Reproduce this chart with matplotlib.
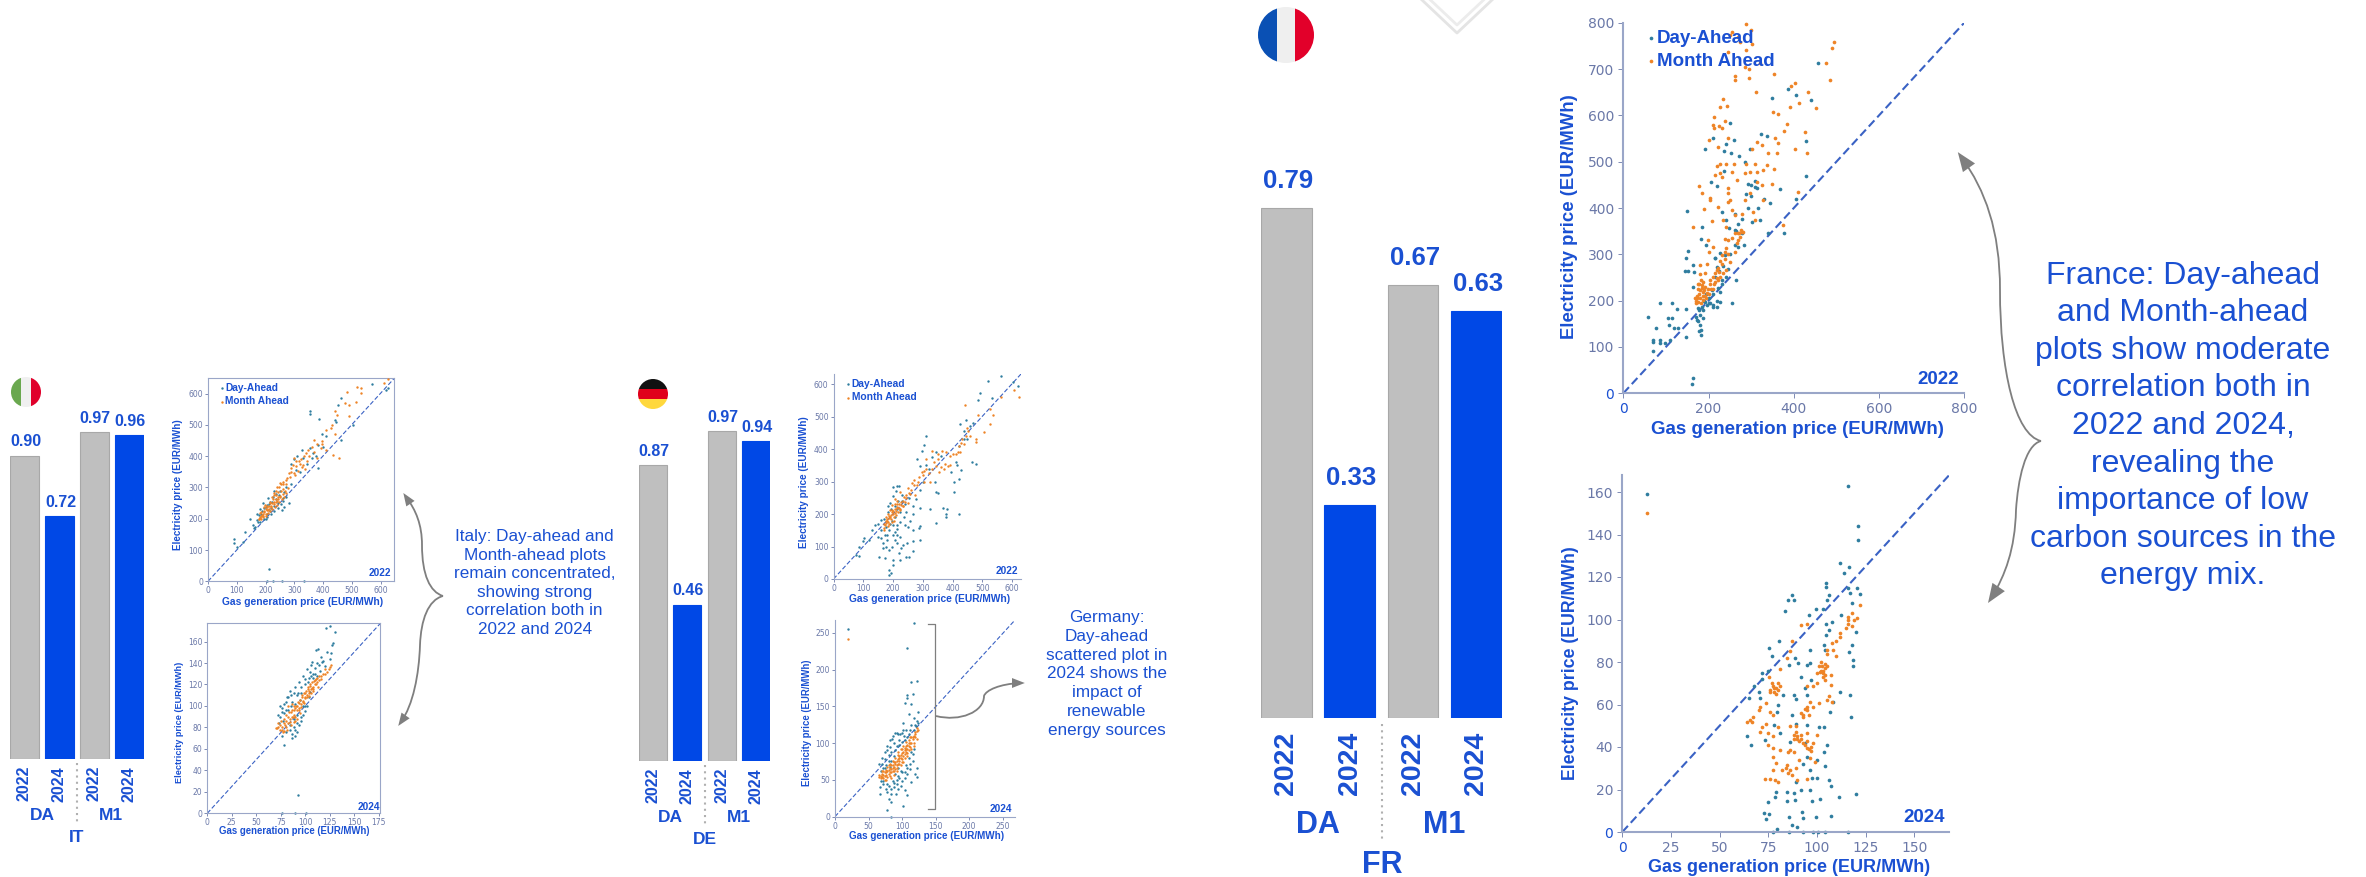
import numpy as np
import matplotlib
matplotlib.use('Agg')
import matplotlib.pyplot as plt
from matplotlib.path import Path
from matplotlib.patches import PathPatch, Polygon, Circle, Rectangle

plt.rcParams['font.family'] = ['Liberation Sans', 'DejaVu Sans']

W, H = 2366, 877
BLUE = '#1a50d2'
BAR_BLUE = '#0048e6'
BAR_GREY = '#bfbfbf'
ARROW = '#7f7f7f'
DA_COL = '#2f7d9f'
M1_COL = '#ee8427'
TICK = '#6a78a8'

bar_years = ['2022', '2024', '2022', '2024']
it_corr = [0.90, 0.72, 0.97, 0.96]
de_corr = [0.87, 0.46, 0.97, 0.94]
fr_corr = [0.79, 0.33, 0.67, 0.63]

it_text = 'Italy: Day-ahead and\nMonth-ahead plots\nremain concentrated,\nshowing strong\ncorrelation both in\n2022 and 2024'
de_text = 'Germany:\nDay-ahead\nscattered plot in\n2024 shows the\nimpact of\nrenewable\nenergy sources'
fr_text = 'France: Day-ahead\nand Month-ahead\nplots show moderate\ncorrelation both in\n2022 and 2024,\nrevealing the\nimportance of low\ncarbon sources in the\nenergy mix.'

# (gas price, electricity price)
fr22_m1 = [(289,797),(299,784),(301,755),(256,780),(250,773),(270,769),(274,759),(245,737),(289,741),(285,705),
           (295,699),(321,712),(262,684),(262,676),(295,681),(495,759),(489,746),(475,713),(486,676),(354,689),
           (311,651),(393,663),(403,669),(434,651),(412,626),(391,617),(451,615),(352,608),(364,602),(385,582),
           (378,566),(426,564),(432,519),(403,528),(362,541),(357,552),(360,518),(233,635),(228,617),(244,620),
           (213,597),(211,579),(213,572),(224,577),(231,572),(239,588),(202,546),(245,551),(223,531),(313,543),
           (325,536),(301,528),(340,518),(219,490),(228,494),(242,496),(260,496),(289,496),(309,496),(336,492),
           (354,485),(328,482),(215,471),(227,475),(231,467),(254,478),(285,475),(297,477),(313,478),(267,460),
           (178,448),(246,444),(184,433),(313,457),(348,451),(325,449),(297,433),(285,417),(203,422),(203,417),
           (246,433),(250,417),(223,403),(246,413),(189,397),(207,372),(164,358),(328,417),(305,392),(309,374),
           (278,388),(254,395),(262,385),(411,434),(374,363),(235,374),(242,360),(239,334),(246,331),(278,349),
           (274,338),(266,324),(199,331),(211,316),(242,313),(239,306),(231,298),(202,304),(181,277),(196,280),
           (192,259),(180,257),(262,306),(250,284),(231,280),(219,266),(211,252),(223,244),(235,259),(242,266),
           (176,237),(184,234),(192,230),(180,223),(188,219),(196,216),(172,209),(180,205),(188,201),(176,198),
           (170,194),(199,226),(203,237),(215,241),(219,248),(227,252),(185,228),(178,215),(192,210),(183,195),
           (174,205),(170,200),(186,240),(205,225),(212,235),(225,262),(238,290),(245,300),(270,345),(268,330),
           (175,225),(182,245),(190,222),(195,205),(200,215),(178,235),(186,210),(168,205),(204,245),(210,225),
           (214,260),(222,270),(228,285),(256,335),(262,345),(272,345),(275,352),(280,348)]
fr22_da = [(456,713),(387,656),(406,643),(440,634),(348,637),(250,584),(240,538),(259,546),(191,527),(211,552),
           (236,524),(252,518),(271,512),(324,559),(338,556),(297,528),(428,545),(428,469),(205,456),(219,448),
           (237,480),(285,500),(150,393),(293,452),(309,459),(313,444),(368,442),(405,420),(344,410),(340,345),
           (378,347),(331,419),(317,399),(293,401),(231,392),(242,375),(263,388),(278,377),(321,374),(301,370),
           (185,358),(182,334),(194,320),(152,308),(146,292),(249,356),(262,352),(278,345),(145,264),(152,264),
           (164,277),(166,262),(215,291),(227,302),(239,298),(282,320),(270,316),(86,194),(115,196),(125,182),
           (104,162),(115,162),(57,165),(77,141),(108,148),(119,141),(129,141),(147,183),(147,121),(70,115),
           (86,115),(69,111),(97,108),(70,91),(86,108),(109,115),(164,32),(160,20),(178,135),(182,136),(182,125),
           (176,157),(188,162),(172,158),(180,147),(164,230),(203,194),(211,187),(227,198),(227,219),(242,252),
           (254,194),(264,244),(219,187),(188,180),(196,191),(207,223),(231,237),(219,273),(215,291),(178,180),
           (185,186),(192,198),(200,205),(210,215),(222,228),(232,245),(245,268),
           (175,185),(190,200),(200,195),(210,190),(220,200),(180,170),(170,165),(195,215),(215,250),(225,265),
           (235,275),(250,300),(265,350),(270,365),(262,320),(300,450),(310,445),(288,430),(300,425)]
fr24_m1 = [(12.9,150),(122,107),(118,103),(116,101),(120.5,100.6),(116,98),(118,97),(115,96),(112,93.6),(110,90),
           (107.6,89),(108.5,85.7),(105,84),(105,85.7),(110,83),(102.5,78),(104,77),(101.6,75.5),(103,75),(107,74),
           (104,71.6),(107,69),(95,68.5),(98,68.5),(100,70),(106,64),(107.6,61),(101,60.6),(98,59),(95,57.5),
           (92,56),(96.5,61),(77.6,68.5),(79,68),(76,67),(81,68.5),(75.6,73),(81,76.6),(84.5,81.8),(86,85),
           (87,90),(92,97.5),(95,98),(70.8,59),(70,57.5),(67,54),(65.6,52.7),(64,51.6),(66.5,52),(71.6,49.6),
           (74,51),(70.8,47),(76,56.7),(74,60.6),(77.6,55),(80,49.6),(75,46.5),(77.6,45),(75,41),(77.6,39.4),
           (81,38.6),(85,37.8),(88,37.8),(77.6,35.5),(79,32.7),(77.6,29),(82,29),(84.5,31.6),(86,29),(89,30),
           (91,34),(73.4,25),(76,24.8),(78.5,24.5),(80,23.7),(89.6,24.5),(95,24.8),(86,50),(89,50),(88,45.7),
           (89.6,45),(92,45.7),(95,46.5),(95,43),(98,41.8),(95,39.4),(96.5,34.7),(99,33),(86,38.6),(100,45.7),
           (102,76),(104,79),(103,73),(78,66),(80,70),(90,44),(97,40),(93,55),(94,58),(105,62),
           (100,75),(101,78),(102,80),(103,76),(104,74),(105,78),(76,66),(77,70),(78,68),(79,65),(80,67),(88,44),
           (89,47),(91,43),(92,44),(93,42),(94,41),(96,39),(97,38),(95,59),(96,55),(93,54),(112,92),(116,100),
           (119,100),(84,30),(85,28),(87,27)]
fr24_da = [(12.9,159),(116,163),(121,144),(121,137.5),(112,126.5),(116.7,124.7),(114,122),(104.4,117),(104.4,115.5),
           (106,111.6),(116,115),(120.5,115),(122,112),(117,112.4),(87,111.3),(85,109),(83.6,104),(88,109),(96,102),
           (99.6,105),(103,105),(112.4,102),(105,109),(118,107.7),(104.7,98),(107.6,99),(106.4,95),(104.4,92.8),
           (120,94),(117.8,88),(116.5,84.5),(118.4,81),(118.4,78),(103.4,88),(104.3,85.7),(80.4,90),(75.4,86.5),
           (76.8,82.6),(96.5,85.7),(88.8,82),(85.4,78.7),(90.5,79.4),(95,78.7),(96.5,79.4),(72,75),(75,76),(71.6,72),
           (67.7,68.5),(70,66),(70.8,63),(65.3,63),(91.7,73),(97,71.6),(112,66),(117,64.5),(117.6,54),(106.8,56.7),
           (108.5,61),(82.8,64.5),(88,64.5),(89,62.5),(94,67.7),(95,64.5),(80,60),(79.4,56.7),(87,55),(64.3,45),
           (66.3,41),(73.4,43.3),(78,50.4),(81,46.5),(89,51),(94.8,50.4),(100.8,49.6),(103.4,49.6),(105.4,41),
           (86,42.5),(94,41.8),(95,35.5),(100,34),(103.4,37.5),(104.2,31),(93,32),(96.5,29),(89,23.7),(97.4,25.6),
           (100,25.6),(106.4,24.5),(107,21.7),(120,17.9),(111.4,16.6),(101.6,15.5),(97.7,14.6),(96.5,19.8),(91.7,20),
           (79,19),(78.5,16.6),(74.7,14.3),(84.8,19),(88,18.2),(84.8,14.6),(88.8,15),(73,8.8),(75.4,8.5),(73.7,6),
           (85.4,7.2),(92.2,9.6),(93,6.6),(99.4,7.2),(107.3,7.7),(79.7,1.4),(87,3.3),(89.6,2.5),(77.6,0),(85.9,0),
           (92.6,0),(98.2,0),(100.3,0),(104.2,0),(115.9,0)]

it22_m1 = [(626,646),(611,635),(519,620),(531,617),(533,601),(484,604),(516,572),(477,569),(491,564),(441,543),
           (448,532),(491,527),(427,489),(412,484),(434,404),(455,393),(370,452),(349,420),(334,399),(299,393),
           (327,367),(299,345),(270,324),(249,313),(240,300),(228,281),(440,470),(430,500),(395,450),(380,440),
           (360,430),(340,410),(315,385),(305,370),(285,335),(262,310),(255,290),(245,285),(235,275),(225,262),
           (215,250),(205,238),(195,225),(185,210),(178,198),(190,205),(200,215),(210,228),(220,240),(230,252),
           (240,258),(250,268),(222,250),(212,240),(202,230),(192,215),(182,202),(235,262),(245,270),(260,295),
           (275,330),(290,350),(305,385),(320,375),(410,420),(395,440),
           (176,198),(180,205),(184,200),(188,212),(192,208),(196,222),(200,210),(204,228),(208,218),(212,232),
           (216,224),(220,238),(224,230),(228,246),(232,238),(236,252),(240,244),(244,262),(248,254),(252,272),
           (256,262),(260,280),(264,270),(268,290),(272,282),(278,298),(182,218),(186,222),(194,236),(198,244),
           (206,240),(214,252),(222,268),(230,276),(238,290),(246,302),(254,310),(262,318),(270,312),(280,345),
           (290,362),(296,372),(304,340),(312,352),(322,392),(330,372),(338,358),(345,385),(352,402),(368,412),
           (378,395),(392,425)]
it22_da = [(569,631),(356,543),(356,535),(387,518),(462,585),(452,564),(441,516),(412,463),(384,436),(327,420),
           (355,425),(92,135),(92,124),(145,199),(213,39),(206,2),(225,2),(256,2),(334,2),(128,159),(121,127),
           (100,111),(619,612),(626,617),(505,500),(462,452),(384,361),(263,239),(256,228),(300,390),(290,375),
           (320,350),(360,395),(395,470),(445,510),(270,300),(250,290),(235,280),(225,270),(215,255),(205,245),
           (195,235),(185,215),(175,190),(165,175),(200,200),(215,225),(230,240),(245,250),(260,265),(180,230),
           (190,250),(210,265),(230,290),(205,215),(220,235),
           (170,196),(176,212),(182,190),(188,224),(194,200),(200,236),(206,206),(212,246),(218,216),(224,252),
           (230,226),(236,262),(242,234),(248,276),(254,246),(260,258),(266,286),(272,268),(280,250),(290,310),
           (305,355),(310,400),(330,395),(345,375),(365,410),(375,400),(400,430),(170,215),(160,170),(155,180)]
it24_m1 = [(70,79),(72,80),(74,82),(76,78),(78,84),(80,86),(82,90),(84,85),(85,94),(80,80),(78,77),(86,90),(88,96),
           (90,98),(92,100),(94,103),(96,99),(98,105),(100,107),(102,110),(104,112),(106,116),(108,118),(110,120),
           (112,122),(114,124),(116,125),(120,130),(122,132),(124,134),(126,138),(125,136),(103,116),(105,119),
           (107,117),(109,123),(111,125),(113,118),(97,108),(99,103),(95,93),(90,90),(86,102),(92,88),(82,100),
           (88,85),(94,96),(100,112),(104,109),(108,114),
           (71,79),(72,84),(74,78),(75,86),(76,80),(77,76),(78,88),(79,82),(80,92),(81,78),(82,84),(83,94),(84,88),
           (85,82),(86,96),(87,90),(88,100),(89,92),(90,86),(91,100),(92,96),(93,104),(94,98),(95,106),(96,102),
           (97,110),(98,104),(99,112),(100,108),(101,114),(102,108),(103,118),(104,114),(105,120),(106,112),
           (107,122),(108,116),(110,124),(111,120),(112,126),(114,128),(116,128),(118,130),(120,134)]
it24_da = [(125,174.5),(121,173),(130,169),(128,159),(127,157),(113,153),(111,152),(126,149),(125,144),(107,141),
           (117,141),(78,63.7),(92.5,17),(90,0.5),(101,0.5),(76,0.5),(110,135),(106,128),(103,122),(100,125),
           (96,118),(93,112),(115,133),(120,137),(105,113),(98,100),(95,106),(90,102),(85,110),(80,104),(76,98),
           (74,90),(78,93),(82,96),(88,88),(92,92),(96,86),(84,82),(90,78),(86,74),(94,82),(100,95),(110,130),
           (112,128),(105,132),(73,84),(77,86),(81,108),(85,100),(98,92),(102,100),(108,126),
           (72,92),(74,100),(76,94),(78,102),(80,96),(82,108),(84,114),(86,104),(88,112),(90,118),(92,110),(94,122),
           (96,112),(98,128),(100,120),(102,134),(104,126),(106,138),(108,130),(112,140),(114,138),(116,146),(118,142),
           (122,150),(84,78),(88,80),(92,84),(96,90),(100,100),(104,108),(76,72),(80,76),(92,76),(90,72),(86,70)]
de22_m1 = [(442,537),(607,581),(624,560),(564,560),(525,524),(535,504),(485,504),(525,478),(505,452),(478,431),
           (478,421),(451,457),(438,416),(418,390),(412,385),(385,349),(365,395),(332,395),(312,369),(345,349),
           (305,333),(285,300),(270,290),(255,265),(225,268),(205,245),(235,240),(250,235),(228,228),(215,222),
           (205,215),(195,205),(185,195),(175,180),(170,170),(190,190),(200,200),(210,210),(220,220),(235,225),
           (245,250),(260,275),(275,260),(300,320),(330,340),(350,370),(370,340),(390,380),(420,410),(430,420),
           (445,440),(375,355),(355,330),(325,300),(180,185),(198,212),(212,232),(222,212),(183,175),(168,158),
           (168,150),(172,165),(176,172),(180,178),(184,162),(188,188),(192,196),(196,176),(200,208),(204,192),
           (208,202),(212,218),(216,206),(220,230),(224,216),(228,238),(232,226),(236,252),(240,236),(244,260),
           (176,190),(182,200),(190,212),(198,228),(206,232),(214,240),(186,170),(194,186),(202,178),(210,196),
           (250,280),(258,262),(265,296),(272,305),(280,290),(288,315),(296,330),(304,300),(312,340),(320,325),
           (338,360),(352,385),(362,345),(378,390),(392,350),(400,385),(425,392),(432,432),(448,465),(460,440)]
de22_da = [(564,625),(520,609),(491,571),(485,550),(531,557),(621,595),(604,605),(445,488),(425,478),(438,457),
           (467,359),(422,307),(405,300),(422,200),(405,269),(381,214),(369,219),(378,199),(378,191),(345,268),
           (345,173),(325,214),(350,266),(312,439),(305,413),(298,395),(281,369),(292,349),(292,162),(292,121),
           (266,116),(266,85),(252,69),(242,69),(228,95),(219,80),(223,59),(199,59),(199,43),(186,28),(192,18),
           (186,12),(173,64),(153,67),(166,95),(159,126),(179,136),(199,136),(212,111),(246,111),(86,72),(77,74),
           (86,100),(100,116),(120,121),(104,126),(139,167),(159,181),(266,152),(286,157),(239,167),(212,167),
           (199,283),(212,286),(199,255),(266,199),(292,219),(230,240),(215,215),(205,190),(195,180),(225,205),
           (190,170),(240,230),(255,250),(320,340),(340,300),(360,380),(420,410),(440,430),(410,360),(430,335),
           (480,355),(180,120),(205,145),(175,100),(215,135),
           (170,185),(176,160),(182,205),(188,150),(194,215),(200,165),(206,225),(212,155),(218,240),(224,175),
           (230,258),(236,190),(242,205),(250,160),(258,180),(268,225),(276,245),(290,275),(300,300),(160,150),
           (150,130),(165,110),(172,135),(185,90),(195,100),(205,120),(225,130),(235,105),(148,170),(130,150),
           (210,270),(220,285),(190,235),(182,225),(310,350),(330,375),(345,390),(395,330),(415,350),(450,430),
           (460,470),(470,480)]
de24_m1 = [(20,241),(122,120),(120,115),(118,110),(122,105),(116,105),(114,100),(112,95),(110,96),(108,92),(106,88),
           (104,85),(102,82),(100,78),(98,80),(96,75),(94,72),(92,70),(90,65),(88,68),(86,62),(84,65),(82,60),(80,58),
           (78,62),(76,60),(74,55),(72,56),(70,54),(68,55),(66,54),(76,50),(82,55),(86,70),(88,56),(92,62),(96,80),
           (100,92),(104,94),(108,86),(112,108),(118,100),(120,108),(90,74),(94,84),(84,52),(98,70),(102,74),(106,96),
           (110,104),
           (66,56),(68,52),(70,58),(72,52),(74,60),(76,56),(78,54),(80,64),(82,66),(84,60),(86,66),(88,62),(90,72),
           (92,66),(94,78),(96,72),(98,84),(100,74),(102,88),(104,80),(106,92),(108,82),(110,90),(112,100),(114,92),
           (116,108),(118,96),(120,112),(122,116),(124,118),(70,62),(74,50),(78,68),(82,72),(86,76),(90,80),(94,88),
           (98,92),(102,96),(106,102),(110,100),(114,108),(72,62),(76,64),(80,70),(84,70),(88,74),(92,76),(96,82),
           (100,86),(104,90),(108,98)]
de24_da = [(20,254.6),(118.5,264),(107,230),(113,183),(123,185),(107,166),(107,162),(115.6,167),(105,154),(114,153),
           (111,139),(124,142),(118.5,134),(101,127),(113,124),(121,123),(92,113.5),(85,105),(122.6,65.5),(122.6,54),
           (120,58),(114,47),(104,36),(108,29),(102,14),(91,31),(77,33),(83,31),(67,40),(67,31),(80,24),(83,20),(77,9),
           (83,0),(97,112),(103,110),(110,112),(88,100),(82,95),(78,90),(74,78),(70,72),(68,62),(80,84),(90,90),(96,98),
           (100,60),(106,70),(112,65),(116,75),(86,48),(92,50),(78,44),(72,45),(98,42),(104,52),(108,58),(94,38),(88,40),
           (75,66),(84,75),(94,55),
           (66,72),(70,80),(74,88),(78,96),(82,104),(86,110),(90,114),(94,112),(100,114),(106,118),(72,48),(76,38),
           (80,42),(84,38),(88,46),(92,44),(96,52),(100,48),(104,60),(108,66),(112,72),(116,85),(118,92),(80,76),
           (84,88),(88,82),(92,96),(96,104),(100,102),(104,104),(108,108),(76,70),(72,66),(68,48),(82,68),(90,58),
           (94,66),(98,62),(110,80),(114,88),(120,125),(124,128),(122,130),(118,118),(112,118),(102,118)]

fig = plt.figure(figsize=(W / 100, H / 100), dpi=100, facecolor='white')

# whole page axes in reference pixels, used for notes, flags and arrows
page = fig.add_axes([0, 0, 1, 1], zorder=5)
page.set_xlim(0, W)
page.set_ylim(H, 0)
page.axis('off')


def px_axes(left, top, right, bottom):
    ax = fig.add_axes([left / W, 1 - bottom / H, (right - left) / W, (bottom - top) / H])
    ax.set_facecolor('none')
    return ax


def bar_panel(left, right, base, scale, half, corr, val_off, fs_val, fs_tick, tick_pad):
    ax = px_axes(left, base - scale, right, base)
    pos = np.arange(4)
    ax.bar(pos, corr, width=2 * half, color=[BAR_GREY, BAR_BLUE, BAR_GREY, BAR_BLUE],
           edgecolor=['#a8a8a8', BAR_BLUE, '#a8a8a8', BAR_BLUE], linewidth=0.8)
    ax.set_xlim(-half - 0.005, 3 + half + 0.005)
    ax.set_ylim(0, 1)
    ax.set_yticks([])
    ax.set_xticks(pos, bar_years, rotation=90, fontsize=fs_tick, fontweight='bold', color=BLUE)
    ax.tick_params(axis='x', length=0, pad=tick_pad)
    for s in ax.spines.values():
        s.set_visible(False)
    for i, v in enumerate(corr):
        ax.annotate(f'{v:.2f}', (i + 0.03, v), xytext=(0, val_off), textcoords='offset pixels', ha='center',
                    va='center', fontsize=fs_val, fontweight='bold', color=BLUE)


def group_labels(name, xa, xm, xc, y1, y2, d0, d1, fs):
    page.text(xa, y1, 'DA', ha='center', va='center', fontsize=fs, fontweight='bold', color=BLUE)
    page.text(xm, y1, 'M1', ha='center', va='center', fontsize=fs, fontweight='bold', color=BLUE)
    page.text(xc, y2, name, ha='center', va='center', fontsize=fs, fontweight='bold', color=BLUE)
    page.plot([xc, xc], [d0, d1], color='#b0b0b0', lw=1.5, ls=(0, (1, 2)))


def scatter_panel(box, lim, ticks, da, m1, year, year_xy, xlab, ylab, fs_lab, fs_tick, fs_year, size, lw_diag, lw_sp,
                  frame=False, legend=None):
    ax = px_axes(*box)
    ax.set_xlim(0, lim[0])
    ax.set_ylim(0, lim[1])
    da = np.array(da)
    m1 = np.array(m1)
    ax.plot([0, lim[0]], [0, lim[1]], color='#3a62c4', lw=lw_diag, ls=(0, (4, 2)), zorder=1)
    ax.scatter(da[:, 0], da[:, 1], s=size, color=DA_COL, linewidths=0, label='Day-Ahead', zorder=2, clip_on=False)
    ax.scatter(m1[:, 0], m1[:, 1], s=size, color=M1_COL, linewidths=0, label='Month Ahead', zorder=3, clip_on=False)
    ax.set_xticks(ticks[0])
    ax.set_yticks(ticks[1])
    ax.tick_params(labelsize=fs_tick, labelcolor=TICK, color=TICK, length=fs_tick * 0.35, width=0.6, pad=fs_tick * 0.3)
    for lb in ax.get_xticklabels() + ax.get_yticklabels():
        lb.set_fontfamily('DejaVu Sans')
    for name, s in ax.spines.items():
        s.set_color('#9aa6c8')
        s.set_linewidth(lw_sp)
        if name in ('top', 'right') and not frame:
            s.set_visible(False)
    ax.set_xlabel('Gas generation price (EUR/MWh)', fontsize=fs_lab[0], fontweight='bold', color=BLUE, va='center')
    ax.set_ylabel('Electricity price (EUR/MWh)', fontsize=fs_lab[1], fontweight='bold', color=BLUE, va='center')
    ax.xaxis.set_label_coords(xlab[0], xlab[1], transform=page.transData)
    ax.yaxis.set_label_coords(ylab[0], ylab[1], transform=page.transData)
    page.text(year_xy[0], year_xy[1], year, ha='center', va='center', fontsize=fs_year, fontweight='bold', color=BLUE)
    if legend:
        ax.legend(loc='center left', bbox_to_anchor=legend[:2], bbox_transform=page.transData, frameon=False,
                  labelcolor=BLUE, borderpad=0, borderaxespad=0, handletextpad=0.05, handlelength=0.6,
                  labelspacing=legend[3], prop={'weight': 'bold', 'size': legend[2]})
    return ax


def flag(cx, cy, r, cols, horizontal=False):
    clip = Circle((cx, cy), r, transform=page.transData, fc='none', ec='none')
    page.add_patch(clip)
    for i, c in enumerate(cols):
        if horizontal:
            rect = Rectangle((cx - r, cy - r + i * 2 * r / 3), 2 * r, 2 * r / 3, fc=c, ec=c, lw=0)
        else:
            rect = Rectangle((cx - r + i * 2 * r / 3, cy - r), 2 * r / 3, 2 * r, fc=c, ec=c, lw=0)
        page.add_patch(rect)
        rect.set_clip_path(clip)


def curve(verts, lw=1.3, head=None, hs=9):
    codes = [Path.MOVETO] + [Path.CURVE4] * (len(verts) - 1)
    page.add_patch(PathPatch(Path(verts, codes), fc='none', ec=ARROW, lw=lw))
    if head:
        tip = np.array(verts[-1], float)
        back = np.array(head, float)
        d = (tip - back) / np.hypot(*(tip - back))
        n = np.array([-d[1], d[0]])
        page.add_patch(Polygon([tip + d * hs * 0.6, tip - d * hs + n * hs * 0.62, tip - d * hs - n * hs * 0.62],
                               fc=ARROW, ec=ARROW, lw=0))


# bars
bar_panel(10, 143.7, 759, 337, 0.41, it_corr, 14, 11.5, 11.5, 5)
bar_panel(639, 770, 761, 340, 0.41, de_corr, 14, 11.5, 11.5, 5)
bar_panel(1260.7, 1501.7, 718, 646, 0.40, fr_corr, 27, 18.5, 20.5, 9.7)
group_labels('IT', 42, 111, 77, 815, 837, 763, 824, 12.5)
group_labels('DE', 670.6, 738.6, 704.6, 818, 840, 765, 827, 12.5)
group_labels('FR', 1318, 1444, 1382, 825, 865, 724, 842, 22)

# flags
flag(26, 392, 15, ['#6aa84f', '#f0f0f0', '#e0002b'])
flag(653, 394, 15, ['#111111', '#e0001b', '#ffd83d'], horizontal=True)
flag(1286, 35, 28, ['#0a50b4', '#efefef', '#e2002a'])

# scatters
scatter_panel((208, 378.3, 394.3, 581.3), (648, 649), ([0, 100, 200, 300, 400, 500, 600], [0, 100, 200, 300, 400, 500, 600]),
              it22_da, it22_m1, '2022', (379.6, 573), (303, 601.7), (178, 485), (7.4, 7.1), 5.5, 7.3, 3, 0.8, 0.8, frame=True,
              legend=(218.5, 394.5, 7.3, 0.35))
scatter_panel((207.3, 623.3, 380.4, 813.3), (176.7, 177), ([0, 25, 50, 75, 100, 125, 150, 175], [0, 20, 40, 60, 80, 100, 120, 140, 160]),
              it24_da, it24_m1, '2024', (368.6, 807), (294.7, 831), (180, 722.5), (6.9, 6.6), 5.5, 7.3, 3, 0.8, 0.8, frame=True)
scatter_panel((833.5, 374, 1021, 579), (630, 631), ([0, 100, 200, 300, 400, 500, 600], [0, 100, 200, 300, 400, 500, 600]),
              de22_da, de22_m1, '2022', (1006.7, 571), (929.4, 599.4), (804, 482), (7.4, 7.2), 5.5, 7.3, 3, 0.8, 0.8,
              legend=(845, 390.5, 7.4, 0.35))
scatter_panel((835, 619.6, 1015.4, 816.6), (269, 268), ([0, 50, 100, 150, 200, 250], [0, 50, 100, 150, 200, 250]),
              de24_da, de24_m1, '2024', (1001, 809.5), (927, 836.4), (806.6, 723), (7.1, 6.9), 5.5, 7.3, 3, 0.8, 0.8)
ax_fr22 = scatter_panel((1623.3, 22.7, 1964.3, 393.3), (800, 800), ([0, 200, 400, 600, 800], [0, 100, 200, 300, 400, 500, 600, 700, 800]),
                        fr22_da, fr22_m1, '2022', (1937.7, 379), (1797, 430), (1570, 217), (13.5, 13.4), 10, 13.5, 7, 1.5, 1.5,
                        legend=(1645, 50, 13.5, 0.35))
ax_fr24 = scatter_panel((1622.3, 475, 1949.3, 832), (168, 168), ([0, 25, 50, 75, 100, 125, 150], [0, 20, 40, 60, 80, 100, 120, 140, 160]),
                        fr24_da, fr24_m1, '2024', (1924, 818), (1789, 867.7), (1570.7, 663), (13, 12.8), 10, 13.5, 7, 1.5, 1.5)
for a in (ax_fr22, ax_fr24):
    a.get_xticklabels()[0].set_color(BLUE)
    a.get_yticklabels()[0].set_color(BLUE)

# notes
page.text(534.7, 583, it_text, ha='center', va='center', ma='center', fontsize=12.3, color=BLUE, linespacing=1.3)
page.text(1107, 674, de_text, ha='center', va='center', ma='center', fontsize=12.3, color=BLUE, linespacing=1.32)
page.text(2183, 426, fr_text, ha='center', va='center', ma='center', fontsize=23, color=BLUE, linespacing=1.33)

# braces and arrows
curve([(443, 596), (430, 592), (422, 575), (422, 545), (422, 525), (416, 510), (406, 497)], head=(412, 506), hs=8)
curve([(443, 596), (428, 600), (421, 620), (420, 645), (419, 675), (413, 705), (401, 722)], head=(408, 712), hs=8)
curve([(2041, 441), (2015, 435), (2000, 370), (2000, 290), (2000, 230), (1985, 190), (1962, 158)], head=(1972, 172), hs=12)
curve([(2041, 441), (2025, 445), (2018, 480), (2016, 510), (2015, 550), (2005, 575), (1992, 597)], head=(2000, 585), hs=12)
curve([(936, 716), (960, 722), (984, 712), (984, 696), (986, 690), (1000, 684), (1020, 683)], head=(1005, 683), hs=8)
page.plot([928.5, 935, 935, 928.5], [624, 624, 809, 809], color=ARROW, lw=0.9)

# chevron clipped by the top edge
for off, c in ((0, '#e4e4e4'), (-8, '#ececec')):
    page.plot([1422, 1457, 1492], [0 + off, 33 + off, 0 + off], color=c, lw=2, clip_on=True)

fig.savefig('out.png', dpi=100)
